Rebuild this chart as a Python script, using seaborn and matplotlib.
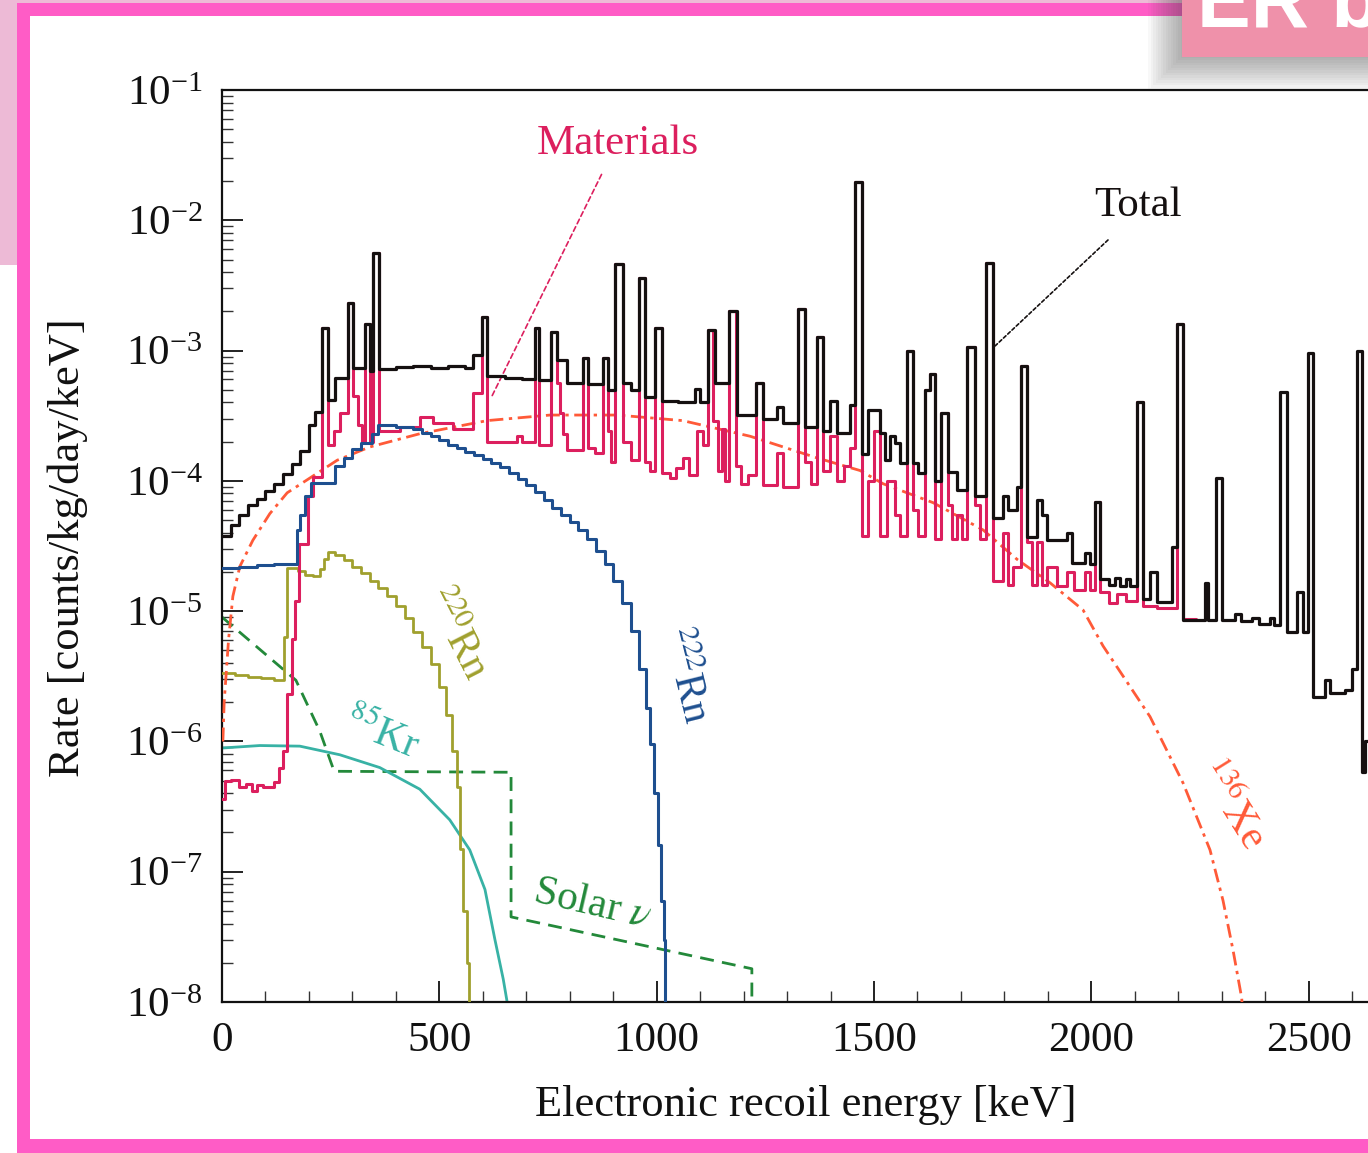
import matplotlib
matplotlib.use("Agg")
import matplotlib.pyplot as plt
import seaborn as sns
import pandas as pd
from matplotlib.patches import Rectangle
from matplotlib.ticker import LogLocator, MultipleLocator, FixedLocator, NullFormatter

sns.set_style("ticks")
plt.rcParams['font.family'] = ['Liberation Serif', 'DejaVu Serif']
plt.rcParams['mathtext.fontset'] = 'stix'

# ---------------- data (energy in keV, rate in counts/kg/day/keV) ----------------
total_edges = [0, 20, 40, 60, 80, 100, 120, 140, 160, 180, 200, 215, 230, 244, 260, 290, 301, 329, 340, 347,
               361, 400, 440, 480, 520, 560, 577, 598, 610, 650, 690, 720, 729, 757, 771, 794, 830, 842, 876, 888,
               904, 922, 940, 959, 973, 996, 1012, 1050, 1088, 1100, 1118, 1134, 1166, 1185, 1228, 1245, 1277,
               1291, 1325, 1341, 1369, 1383, 1399, 1415, 1445, 1456, 1472, 1486, 1514, 1525, 1537, 1548, 1560,
               1576, 1590, 1601, 1617, 1628, 1640, 1655, 1670, 1690, 1714, 1732, 1758, 1774, 1797, 1808, 1829,
               1838, 1852, 1875, 1887, 1898, 1944, 1955, 1985, 1997, 2008, 2020, 2040, 2055, 2065, 2080, 2090,
               2105, 2119, 2135, 2151, 2185, 2197, 2211, 2261, 2268, 2287, 2300, 2330, 2345, 2370, 2385, 2410,
               2420, 2434, 2450, 2473, 2487, 2498, 2510, 2537, 2549, 2583, 2599, 2611, 2622, 2630, 2700]
total_rate = [3.8e-5, 4.6e-5, 5.5e-5, 6.5e-5, 7.3e-5, 8.3e-5, 9.5e-5, 1.12e-4, 1.35e-4, 1.7e-4, 2.7e-4, 3.4e-4,
              1.5e-3, 4.2e-4, 6.2e-4, 2.3e-3, 7.4e-4, 1.6e-3, 7.0e-4, 5.6e-3,
              7.2e-4, 7.5e-4, 7.6e-4, 7.4e-4, 7.6e-4, 7.3e-4, 9.3e-4, 1.8e-3, 6.4e-4, 6.2e-4, 6.1e-4, 1.5e-3,
              5.9e-4, 1.4e-3, 8.5e-4, 5.6e-4, 8.7e-4, 5.5e-4, 8.7e-4, 5.0e-4,
              4.6e-3, 5.6e-4, 5.0e-4, 3.6e-3, 4.4e-4, 1.5e-3, 4.1e-4, 4.0e-4, 5.1e-4, 4.0e-4, 1.45e-3, 5.6e-4,
              2.0e-3, 3.2e-4, 5.6e-4, 3.0e-4, 3.7e-4,
              2.8e-4, 2.1e-3, 2.6e-4, 1.26e-3, 2.4e-4, 4.1e-4, 2.35e-4, 3.8e-4, 1.95e-2, 1.6e-4, 3.5e-4, 2.35e-4,
              1.45e-4, 2.2e-4, 1.95e-4, 1.38e-4,
              1.0e-3, 1.38e-4, 1.15e-4, 5.0e-4, 6.6e-4, 1.0e-4, 3.3e-4, 1.17e-4, 8.5e-5, 1.07e-3, 7.6e-5, 4.7e-3,
              5.2e-5, 7.6e-5, 6.0e-5, 8.9e-5,
              7.6e-4, 3.7e-5, 7.1e-5, 5.5e-5, 3.5e-5, 4.0e-5, 2.35e-5, 2.8e-5, 2.3e-5, 6.9e-5, 1.75e-5, 1.6e-5,
              1.8e-5, 1.55e-5, 1.75e-5, 1.55e-5,
              4.0e-4, 1.23e-5, 2.0e-5, 1.18e-5, 3.1e-5, 1.6e-3, 8.5e-6, 1.65e-5, 8.5e-6, 1.05e-4, 8.5e-6, 9.5e-6,
              8.4e-6, 8.9e-6, 8.0e-6, 8.8e-6,
              7.8e-6, 4.8e-4, 6.9e-6, 1.4e-5, 6.9e-6, 9.5e-4, 2.2e-6, 2.95e-6, 2.35e-6, 2.5e-6, 3.6e-6, 1.0e-3,
              5.8e-7, 1.0e-6]

materials_edges = [0, 8, 20, 40, 55, 70, 80, 95, 120, 130, 140, 150, 161, 168, 178, 198, 210, 230, 244, 258, 272,
                   290, 301, 312, 322, 329, 340, 347, 361, 410, 456, 486, 531, 577, 598, 610, 678, 690, 720, 729,
                   757, 771, 778, 785, 794, 830, 842, 858, 876, 888, 896, 904, 922, 940, 959, 973, 985, 996, 1012,
                   1030, 1045, 1060, 1075, 1093, 1106, 1118, 1130, 1142, 1150, 1158, 1166, 1182, 1195, 1210, 1228,
                   1245, 1277, 1291, 1325, 1341, 1355, 1369, 1383, 1399, 1415, 1430, 1445, 1456, 1472, 1486, 1500,
                   1514, 1530, 1548, 1560, 1576, 1590, 1601, 1617, 1628, 1640, 1655, 1670, 1680, 1690, 1702, 1714,
                   1732, 1745, 1758, 1774, 1797, 1808, 1820, 1838, 1852, 1864, 1875, 1887, 1898, 1920, 1944, 1960,
                   1985, 1997, 2008, 2020, 2040, 2060, 2080, 2105, 2119, 2150, 2197, 2211, 2240]
materials_rate = [3.6e-7, 5.0e-7, 5.1e-7, 4.5e-7, 4.7e-7, 4.2e-7, 4.6e-7, 4.5e-7, 4.9e-7, 6.3e-7, 8.5e-7, 2.3e-6,
                  6.1e-6, 1.2e-5, 3.3e-5, 7.7e-5, 1.07e-4, 1.5e-3, 1.9e-4, 2.4e-4, 3.3e-4,
                  2.3e-3, 4.5e-4, 2.7e-4, 2.0e-4, 1.6e-3, 2.0e-4, 5.6e-3, 2.4e-4, 2.6e-4, 3.1e-4, 2.8e-4, 2.5e-4,
                  4.7e-4, 1.8e-3, 2.0e-4, 2.2e-4, 2.0e-4, 1.5e-3, 1.9e-4,
                  1.4e-3, 5.6e-4, 3.3e-4, 2.3e-4, 1.74e-4, 8.7e-4, 1.8e-4, 1.65e-4, 8.7e-4, 2.4e-4, 1.4e-4, 4.6e-3,
                  2.0e-4, 1.45e-4, 3.6e-3, 1.4e-4, 1.2e-4, 1.5e-3, 1.15e-4,
                  1.05e-4, 1.25e-4, 1.5e-4, 1.1e-4, 2.4e-4, 1.9e-4, 1.45e-3, 2.9e-4, 1.2e-4, 2.5e-4, 1.0e-4, 2.0e-3,
                  1.3e-4, 9.5e-5, 1.1e-4, 5.6e-4,
                  9.3e-5, 1.65e-4, 9.0e-5, 2.1e-3, 1.4e-4, 9.5e-5, 1.26e-3, 1.2e-4, 2.2e-4, 1.0e-4, 1.3e-4, 1.8e-4,
                  1.95e-2, 3.8e-5, 1.0e-4, 2.4e-4,
                  3.8e-5, 1.0e-4, 5.5e-5, 3.8e-5, 1.0e-3, 6.0e-5, 3.8e-5, 5.0e-4, 6.6e-4, 3.6e-5, 3.3e-4, 6.5e-5,
                  3.6e-5, 5.5e-5, 3.6e-5, 1.07e-3,
                  6.5e-5, 3.6e-5, 4.7e-3, 1.7e-5, 4.0e-5, 1.6e-5, 2.2e-5, 7.6e-4, 3.4e-5, 1.6e-5, 3.4e-5, 1.6e-5,
                  2.2e-5, 1.55e-5, 2.0e-5, 1.45e-5,
                  2.0e-5, 1.45e-5, 6.9e-5, 1.4e-5, 1.15e-5, 1.35e-5, 1.2e-5, 4.0e-4, 1.1e-5, 1.05e-5, 1.6e-3, 8.7e-6]

rn222_edges = [0, 40, 80, 120, 172, 180, 190, 205, 260, 280, 300, 320, 345, 360, 400, 440, 460, 480, 500, 520, 540,
               560, 580, 600, 620, 640, 660, 680, 700, 720, 740, 760, 780, 800, 820, 840, 860, 880, 900, 920, 940,
               960, 975, 985, 995, 1003, 1010, 1016, 1020]
rn222_rate = [2.15e-5, 2.2e-5, 2.25e-5, 2.3e-5, 4.2e-5, 5.5e-5, 7.6e-5, 9.6e-5, 1.3e-4, 1.5e-4, 1.75e-4, 1.95e-4,
              2.3e-4, 2.7e-4, 2.6e-4, 2.5e-4, 2.35e-4, 2.2e-4, 2.05e-4, 1.9e-4, 1.78e-4, 1.68e-4, 1.58e-4, 1.48e-4,
              1.38e-4, 1.27e-4, 1.15e-4, 1.04e-4, 9.3e-5, 8.2e-5, 7.1e-5, 6.2e-5, 5.5e-5, 4.8e-5, 4.2e-5, 3.6e-5,
              2.9e-5, 2.3e-5, 1.7e-5, 1.15e-5, 7.0e-6, 3.6e-6, 1.8e-6, 9.5e-7, 4.0e-7, 1.6e-7, 6e-8, 3e-8]

rn220_edges = [0, 30, 60, 90, 120, 143, 150, 175, 190, 210, 225, 235, 245, 260, 280, 300, 320, 340, 360, 380, 400,
               420, 440, 460, 480, 500, 515, 530, 540, 547, 555, 563, 569]
rn220_rate = [3.35e-6, 3.25e-6, 3.15e-6, 3.05e-6, 2.95e-6, 6.3e-6, 2.15e-5, 2.05e-5, 1.9e-5, 1.85e-5, 2.1e-5,
              2.5e-5, 2.85e-5, 2.7e-5, 2.45e-5, 2.2e-5, 1.95e-5, 1.7e-5, 1.5e-5, 1.3e-5, 1.1e-5, 8.8e-6, 6.9e-6,
              5.3e-6, 3.9e-6, 2.6e-6, 1.6e-6, 8.5e-7, 4.5e-7, 1.5e-7, 5e-8, 2e-8]

kr85_energy = [0, 87, 179, 271, 363, 455, 524, 570, 605, 628, 647, 656, 658]
kr85_rate = [8.9e-7, 9.3e-7, 9.2e-7, 7.9e-7, 6.3e-7, 4.3e-7, 2.5e-7, 1.47e-7, 7.3e-8, 3.0e-8, 1.5e-8, 1.0e-8, 5e-9]

solar_energy = [0, 170, 225, 258, 665, 665, 1219, 1219]
solar_rate = [9.0e-6, 2.95e-6, 1.2e-6, 5.9e-7, 5.8e-7, 4.5e-8, 1.8e-8, 5e-9]

xe136_energy = [2, 5, 15, 25, 41, 71, 110, 150, 202, 265, 340, 455, 610, 755, 909, 1060, 1215, 1369, 1468, 1521,
                1636, 1751, 1829, 1905, 1981, 2027, 2135, 2211, 2273, 2303, 2326, 2346, 2352]
xe136_rate = [1.0e-6, 2.0e-6, 6.0e-6, 1.3e-5, 2.2e-5, 3.5e-5, 5.6e-5, 8.1e-5, 1.05e-4, 1.44e-4, 1.82e-4, 2.3e-4,
              2.9e-4, 3.2e-4, 3.2e-4, 2.9e-4, 2.2e-4, 1.5e-4, 1.2e-4, 9.5e-5, 6.8e-5, 4.2e-5, 2.5e-5, 1.65e-5,
              1.02e-5, 5.4e-6, 1.55e-6, 4.8e-7, 1.47e-7, 6.0e-8, 2.5e-8, 1.07e-8, 5e-9]

x_ticks = [0, 500, 1000, 1500, 2000, 2500]
y_ticks = [1e-8, 1e-7, 1e-6, 1e-5, 1e-4, 1e-3, 1e-2, 1e-1]

# ---------------- figure ----------------
W, H = 1368, 1153
fig = plt.figure(figsize=(W / 100, H / 100), dpi=100)
fig.patch.set_facecolor('white')
ax = fig.add_axes([222 / W, (H - 1002) / H, 1304 / W, 912 / H])
ax.set_yscale('log')


def step_frame(edges, vals, tail):
    return pd.DataFrame({'E': edges, 'R': list(vals) + [tail]})


C_TOTAL = '#151010'
C_MAT = '#DC1F5E'
C_RN222 = '#1E4F8F'
C_RN220 = '#A0A02E'
C_KR = '#38B2A5'
C_SOLAR = '#23893A'
C_XE = '#FF5A38'

# solar neutrinos
sns.lineplot(data=pd.DataFrame({'E': solar_energy, 'R': solar_rate}), x='E', y='R', ax=ax, sort=False,
             estimator=None, color=C_SOLAR, lw=2.0, zorder=2)
ax.lines[-1].set_dashes([5, 3])
# 85Kr
sns.lineplot(data=pd.DataFrame({'E': kr85_energy, 'R': kr85_rate}), x='E', y='R', ax=ax, sort=False,
             estimator=None, color=C_KR, lw=2.0, zorder=2)
# 220Rn
sns.lineplot(data=step_frame(rn220_edges, rn220_rate, 1e-9), x='E', y='R', ax=ax, sort=False, estimator=None,
             drawstyle='steps-post', color=C_RN220, lw=2.0, zorder=3)
# 136Xe
sns.lineplot(data=pd.DataFrame({'E': xe136_energy, 'R': xe136_rate}), x='E', y='R', ax=ax, sort=False,
             estimator=None, color=C_XE, lw=2.0, zorder=3)
ax.lines[-1].set_dashes([5, 2, 1.2, 2])
# materials
sns.lineplot(data=step_frame(materials_edges, materials_rate, materials_rate[-1]), x='E', y='R', ax=ax,
             sort=False, estimator=None, drawstyle='steps-post', color=C_MAT, lw=2.2, zorder=4)
# 222Rn
sns.lineplot(data=step_frame(rn222_edges, rn222_rate, 1e-9), x='E', y='R', ax=ax, sort=False, estimator=None,
             drawstyle='steps-post', color=C_RN222, lw=2.2, zorder=5)
# total
sns.lineplot(data=step_frame(total_edges, total_rate, total_rate[-1]), x='E', y='R', ax=ax, sort=False,
             estimator=None, drawstyle='steps-post', color=C_TOTAL, lw=2.3, zorder=6)

ax.set_xlim(0, 3000)
ax.set_ylim(1e-8, 1e-1)
ax.xaxis.set_major_locator(FixedLocator(x_ticks))
ax.xaxis.set_minor_locator(MultipleLocator(100))
ax.yaxis.set_major_locator(FixedLocator(y_ticks))
ax.yaxis.set_minor_locator(LogLocator(base=10, subs=range(2, 10), numticks=20))
ax.yaxis.set_minor_formatter(NullFormatter())
ax.tick_params(which='major', direction='in', length=15, width=1.3, labelsize=31, colors='#111111')
ax.tick_params(axis='x', which='major', pad=14)
ax.tick_params(axis='y', which='major', pad=14)
ax.tick_params(which='minor', direction='in', length=8, width=1.0, colors='#333333')
for s in ax.spines.values():
    s.set_linewidth(1.6)
    s.set_color('#111111')

ax.set_xlabel('Electronic recoil energy [keV]', fontsize=32, color='#111111')
ax.set_ylabel('Rate [counts/kg/day/keV]', fontsize=32, color='#111111')
ax.xaxis.set_label_coords((806 - 222) / 1304, -(1105 - 1002) / 912)
ax.xaxis.label.set_va('center')
ax.yaxis.set_label_coords((68 - 222) / 1304, (1002 - 548) / 912)
ax.yaxis.label.set_va('center')

# in-plot labels
ax.text(911, 3.9e-2, 'Materials', color=C_MAT, fontsize=31, ha='center', va='center')
ax.annotate('', xy=(617, 4.2e-4), xytext=(876, 2.35e-2),
            arrowprops=dict(arrowstyle='-', color=C_MAT, lw=1.2, linestyle=(0, (3, 2))))
ax.text(2107, 1.29e-2, 'Total', color=C_TOTAL, fontsize=31, ha='center', va='center')
ax.annotate('', xy=(1774, 1.05e-3), xytext=(2043, 7.3e-3),
            arrowprops=dict(arrowstyle='-', color=C_TOTAL, lw=1.2, linestyle=(0, (2, 1.5))))
ax.text(536, 6.6e-6, r'$^{220}$Rn', color=C_RN220, fontsize=30, rotation=-63, rotation_mode='anchor',
        ha='center', va='center')
ax.text(1063, 3.2e-6, r'$^{222}$Rn', color=C_RN222, fontsize=30, rotation=-76, rotation_mode='anchor',
        ha='center', va='center')
ax.text(368, 1.12e-6, r'$^{85}$Kr', color=C_KR, fontsize=30, rotation=-22, rotation_mode='anchor',
        ha='center', va='center')
ax.text(851, 5.6e-8, r'Solar $\nu$', color=C_SOLAR, fontsize=30, rotation=-13, rotation_mode='anchor',
        ha='center', va='center')
ax.text(2319, 3.2e-7, r'$^{136}$Xe', color=C_XE, fontsize=30, rotation=-58, rotation_mode='anchor',
        ha='center', va='center')


# ---------------- slide decorations ----------------
def frect(x0, y0, x1, y1, color, z=10, alpha=1.0):
    fig.add_artist(Rectangle((x0 / W, 1 - y1 / H), (x1 - x0) / W, (y1 - y0) / H, transform=fig.transFigure,
                             facecolor=color, edgecolor='none', alpha=alpha, zorder=z))


frect(0, 0, 17, 265, '#EDBAD6')
frect(0, 0, 1182, 3, '#EDBAD6')
frect(17, 3, 30, 1153, '#FF5CC6')
frect(17, 3, 1182, 16, '#FF5CC6')
frect(17, 1139, 1368, 1153, '#FF5CC6')
for i in range(14):
    frect(1148 + 2.5 * i, 0, 1368, 90 - 2.5 * i, '#444444', z=10, alpha=0.035)
frect(1182, 0, 1368, 57, '#EF91AA', z=11)
fig.text(1197 / W, 1 - 26 / H, 'ER b', color='white', fontsize=58, fontweight='bold',
         family=['Liberation Sans', 'DejaVu Sans'], ha='left', va='baseline', zorder=12)

fig.savefig('out.png', dpi=100)
